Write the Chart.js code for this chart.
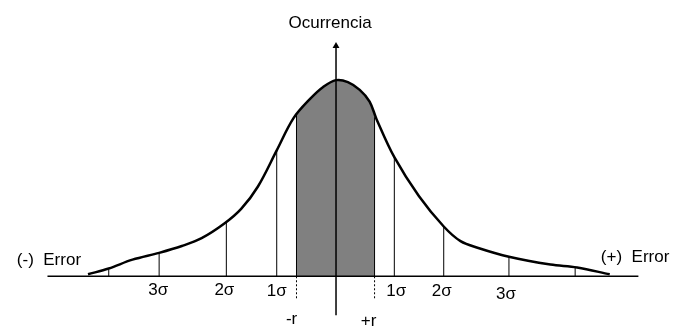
<!DOCTYPE html>
<html>
<head>
<meta charset="utf-8">
<script src="https://cdn.jsdelivr.net/npm/chart.js@4"></script>
<style>
body{margin:0;background:#fff}
#wrap{width:675px;height:331px}
</style>
</head>
<body>
<div id="wrap"><canvas id="myChart"></canvas></div>
<script>
// curve: x = offset from the centre line, y = height above the baseline
const curveX = [-251,-230,-206,-179,-156,-136,-113,-96,-79,-60,-43,-26,-13,0,12,24,34,41,59,84,109,126,144,175,217,244,277];
const curveY = [2,8,17,24,31,39,54,69,92,129,162,182,194,201,199,191,179,161,122,82,51,36,29,20,12,9,2];

// gray band between -r and +r
const bandX = [-40,-26,-13,0,12,24,34,39];
const bandY = [166,182,194,201,199,191,179,164];

// thin vertical marks (sigma lines, -r, +r)
const markX = [-230,-179,-111,-60,-40,39,59,109,175,242];
const markY = [7,23,55,129,166,163,122,51,20,9];

// dotted marks under -r and +r
const dotX = [-40,39];
const dotDepth = -24;

// axes
const baseLine = [-292,306];
const axisLine = [-40,236];

// texts
const labels = ['Ocurrencia','(-)  Error','(+)  Error','3σ','2σ','1σ','1σ','2σ','3σ','-r','+r'];
const labelX = [-6,-323,268,-180,-113,-60,61,107,172,-45,33];
const labelY = [259,16,19,-14,-14,-15,-15,-15,-18,-44,-46];
const labelAlign = ['center','left','left','center','center','center','center','center','center','center','center'];

const pts = (xs, ys) => xs.map((x, i) => ({x: x, y: ys[i]}));

let datasets = [];
datasets.push({
  data: pts(curveX, curveY),
  borderColor: '#000',
  borderWidth: 2.5,
  pointRadius: 0,
  tension: 0.35,
  fill: false
});
datasets.push({
  data: [{x: 0, y: axisLine[0]}, {x: 0, y: axisLine[1]}],
  borderColor: '#000',
  backgroundColor: '#000',
  borderWidth: 1.5,
  pointStyle: 'triangle',
  pointRadius: [0, 4],
  pointBorderWidth: 0,
  fill: false
});
datasets.push({
  data: [{x: baseLine[0], y: 0}, {x: baseLine[1], y: 0}],
  borderColor: '#000',
  borderWidth: 1.5,
  pointRadius: 0,
  fill: false
});
markX.forEach((x, i) => {
  datasets.push({
    data: [{x: x, y: 0}, {x: x, y: markY[i]}],
    borderColor: '#000',
    borderWidth: 1,
    pointRadius: 0,
    fill: false
  });
});
dotX.forEach((x) => {
  datasets.push({
    data: [{x: x, y: 0}, {x: x, y: dotDepth}],
    borderColor: '#000',
    borderWidth: 1,
    borderDash: [2, 2],
    pointRadius: 0,
    fill: false
  });
});
datasets.push({
  data: pts(bandX, bandY),
  borderWidth: 0,
  borderColor: 'rgba(0,0,0,0)',
  backgroundColor: '#808080',
  pointRadius: 0,
  tension: 0.35,
  fill: 'origin'
});

const textPlugin = {
  id: 'texts',
  afterDatasetsDraw(chart) {
    const c = chart.ctx;
    const sx = chart.scales.x, sy = chart.scales.y;
    c.save();
    c.fillStyle = '#000';
    c.font = '17px "Liberation Sans", Arial, sans-serif';
    c.textBaseline = 'middle';
    labels.forEach((t, i) => {
      c.textAlign = labelAlign[i];
      c.fillText(t, sx.getPixelForValue(labelX[i]), sy.getPixelForValue(labelY[i]));
    });
    c.restore();
  }
};

const ctx = document.getElementById('myChart');
new Chart(ctx, {
  type: 'line',
  data: { datasets: datasets },
  options: {
    responsive: true,
    maintainAspectRatio: false,
    animation: false,
    layout: { padding: 0 },
    plugins: {
      legend: { display: false },
      tooltip: { enabled: false }
    },
    scales: {
      x: { type: 'linear', display: false, min: -336, max: 339 },
      y: { type: 'linear', display: false, min: -52, max: 279 }
    }
  },
  plugins: [textPlugin]
});
</script>
</body>
</html>
